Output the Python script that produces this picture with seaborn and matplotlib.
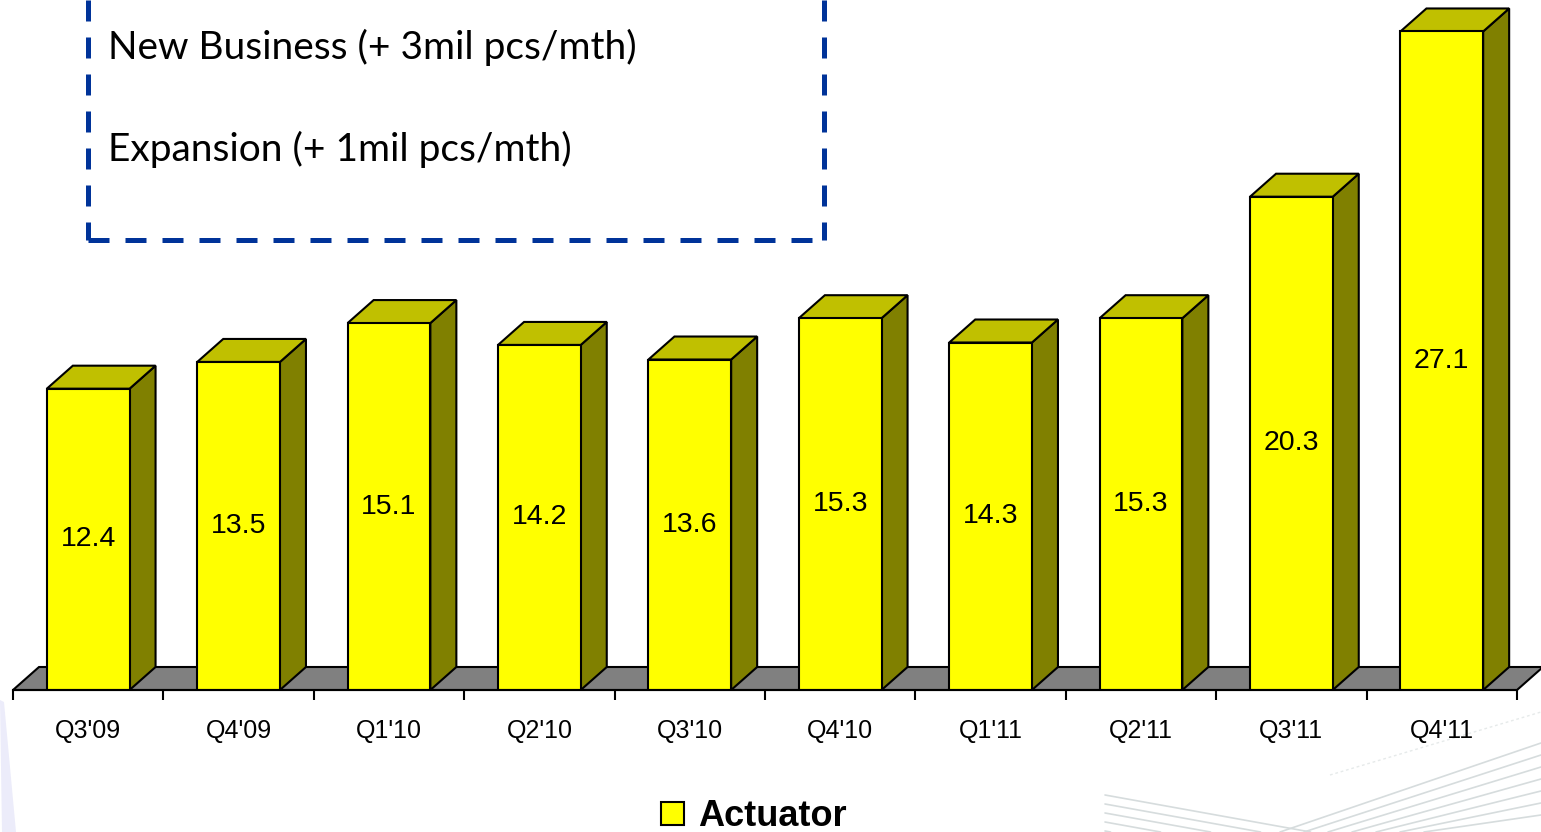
import numpy as np
import pandas as pd
import matplotlib
matplotlib.use("Agg")
import matplotlib.pyplot as plt
from matplotlib.patches import Polygon, Patch
import seaborn as sns

# Quarterly actuator output (mil pcs)
quarters = ["Q3'09", "Q4'09", "Q1'10", "Q2'10", "Q3'10",
            "Q4'10", "Q1'11", "Q2'11", "Q3'11", "Q4'11"]
actuator = [12.4, 13.5, 15.1, 14.2, 13.6, 15.3, 14.3, 15.3, 20.3, 27.1]
series_name = "Actuator"
notes = ["New Business (+ 3mil pcs/mth)", "Expansion (+ 1mil pcs/mth)"]

df = pd.DataFrame({"quarter": quarters, "value": actuator})

W, H = 1541, 832
FRONT = "#ffff00"
SIDE = "#808000"
TOP = "#c0c000"
FLOOR = "#808080"
BOX = "#003399"

sns.set_theme(style="white")
plt.rcParams["font.family"] = ["Liberation Sans", "DejaVu Sans"]
plt.rcParams["text.color"] = "black"

fig = plt.figure(figsize=(W / 100, H / 100), dpi=100)
fig.patch.set_facecolor("white")

# background layer in pixel coordinates
deco = fig.add_axes([0, 0, 1, 1], zorder=0)
deco.set_xlim(0, W)
deco.set_ylim(H, 0)
deco.axis("off")

# faint slide swooshes
for k in range(5):
    y0 = 795 + 9 * k
    x1 = 1105 + (832 - y0) / 0.18
    deco.plot([1105, x1], [y0, 832], color="#d6dcdd", lw=1.2, zorder=0)
for k in range(7):
    deco.plot([1280 + 24 * k, 1541], [832, 743 + 12 * k], color="#d6dcdd", lw=1.2, zorder=0)
deco.plot([1330, 1541], [775, 712], color="#e6eaea", lw=1.0, ls=(0, (2, 2)), zorder=0)
deco.add_patch(Polygon([(0, 700), (4, 702), (16, 832), (2, 832)],
                       closed=True, facecolor="#ececfa", edgecolor="none", zorder=0))

# dashed callout box
box_kw = dict(color=BOX, lw=3.6, ls=(0, (4.2, 3.2)), dash_capstyle="butt", zorder=2)
deco.plot([88, 88], [0, 240], **box_kw)
deco.plot([88, 824], [240, 240], **box_kw)
deco.plot([824, 824], [0, 240], **box_kw)
deco.text(108, 59, notes[0], family=["Lato", "DejaVu Sans"], fontsize=28,
          color="black", va="baseline", ha="left")
deco.text(108, 161, notes[1], family=["Lato", "DejaVu Sans"], fontsize=28,
          color="black", va="baseline", ha="left")

# chart axes: bottom edge sits on the floor's front line
base_px = 690
px_per_unit = 24.3
cat_px = 150.4
ax = fig.add_axes([0, (H - base_px) / H, 1, base_px / H], zorder=1)
ax.patch.set_visible(False)

sns.barplot(data=df, x="quarter", y="value", color=FRONT, saturation=1,
            width=0.55, edgecolor="black", linewidth=1.5, ax=ax, zorder=3)
bars = list(ax.patches)

ax.set_xlim(-0.5 - 13 / cat_px, -0.5 + (W - 13) / cat_px)
ax.set_ylim(0, base_px / px_per_unit)

ddx = 26 / cat_px
ddy = 23 / px_per_unit
n = len(quarters)

# floor slab
ax.add_patch(Polygon([(-0.5, 0), (n - 0.5, 0), (n - 0.5 + ddx, ddy), (-0.5 + ddx, ddy)],
                     closed=True, facecolor=FLOOR, edgecolor="black", lw=1.5,
                     joinstyle="miter", zorder=1, clip_on=False))

# depth faces for each bar
for p in bars:
    x0 = p.get_x()
    x1 = x0 + p.get_width()
    h = p.get_height()
    ax.add_patch(Polygon([(x1, 0), (x1 + ddx, ddy), (x1 + ddx, h + ddy), (x1, h)],
                         closed=True, facecolor=SIDE, edgecolor="black", lw=1.5,
                         joinstyle="miter", zorder=2))
    ax.add_patch(Polygon([(x0, h), (x0 + ddx, h + ddy), (x1 + ddx, h + ddy), (x1, h)],
                         closed=True, facecolor=TOP, edgecolor="black", lw=1.5,
                         joinstyle="miter", zorder=2))
    ax.text(x0 + p.get_width() / 2, h / 2, f"{h:.1f}", ha="center", va="center",
            fontsize=20.5, color="black", zorder=4)

# axis: ticks on category boundaries, labels centred under bars
for s in ["top", "left", "right"]:
    ax.spines[s].set_visible(False)
ax.spines["bottom"].set_bounds(-0.5, n - 0.5)
ax.spines["bottom"].set_color("black")
ax.spines["bottom"].set_linewidth(1.5)
ax.spines["bottom"].set_zorder(5)
ax.set_yticks([])
ax.set_xticks(np.arange(-0.5, n, 1.0))
ax.set_xticklabels([])
ax.set_xticks(np.arange(n), minor=True)
ax.set_xticklabels(quarters, minor=True)
ax.tick_params(axis="x", which="major", direction="out", length=7.5, width=1.5,
               color="black", bottom=True)
ax.tick_params(axis="x", which="minor", length=0, pad=21, labelsize=18,
               labelcolor="black", bottom=True)
ax.set_xlabel("")
ax.set_ylabel("")

# legend
leg = fig.legend(handles=[Patch(facecolor=FRONT, edgecolor="black", lw=1.5)],
                 labels=[series_name], loc="center",
                 bbox_to_anchor=(754 / W, 1 - 817 / H), frameon=False,
                 prop=dict(family="Liberation Sans", weight="bold", size=26),
                 handlelength=0.62, handleheight=0.62, handletextpad=0.4)
for t in leg.get_texts():
    t.set_color("black")

fig.savefig("out.png", dpi=100, facecolor="white")
